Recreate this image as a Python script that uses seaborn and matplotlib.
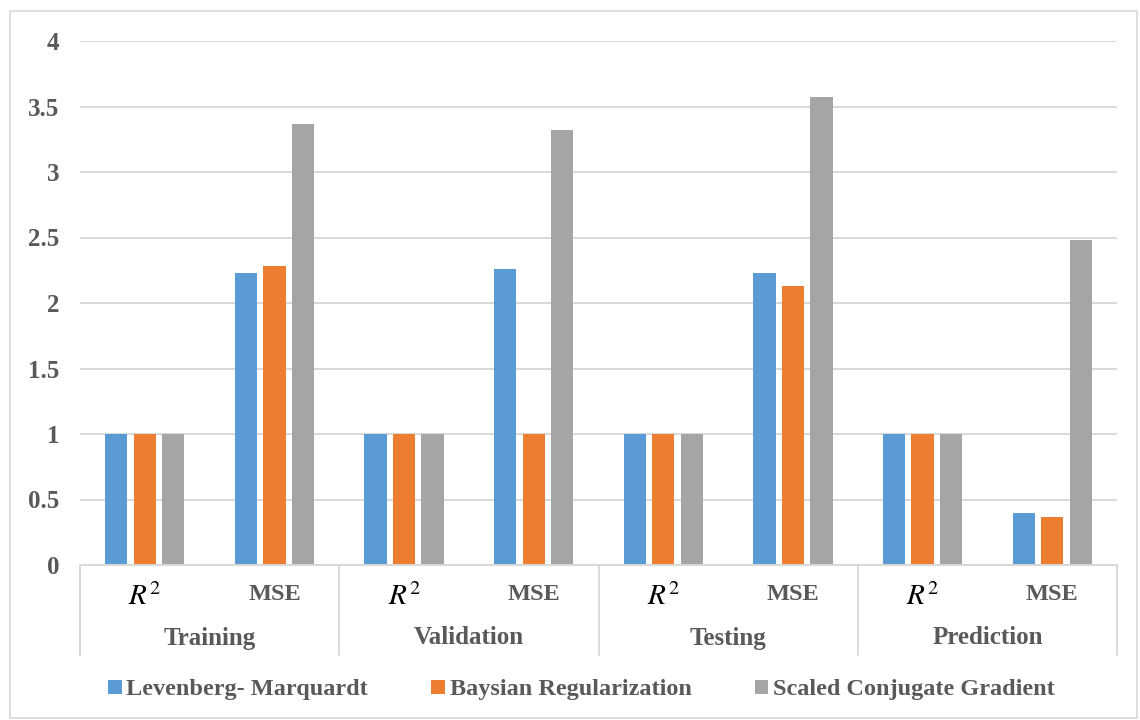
import matplotlib
matplotlib.use("Agg")
import matplotlib.pyplot as plt
import pandas as pd
import seaborn as sns
from matplotlib.patches import Patch, Rectangle
from matplotlib.lines import Line2D
from matplotlib.transforms import blended_transform_factory

# Chart data
stages = ["Training", "Validation", "Testing", "Prediction"]
metrics = ["$R^2$", "MSE"]
methods = ["Levenberg- Marquardt", "Baysian Regularization", "Scaled Conjugate Gradient"]
lm_values = [1, 2.23, 1, 2.26, 1, 2.23, 1, 0.40]
br_values = [1, 2.28, 1, 1, 1, 2.13, 1, 0.37]
scg_values = [1, 3.37, 1, 3.32, 1, 3.57, 1, 2.48]
y_ticks = [0, 0.5, 1, 1.5, 2, 2.5, 3, 3.5, 4]
colors = ["#5B9BD5", "#ED7D31", "#A5A5A5"]

categories = [f"{s}|{m}" for s in stages for m in metrics]
rows = []
for method, vals in zip(methods, [lm_values, br_values, scg_values]):
    for cat, v in zip(categories, vals):
        rows.append({"category": cat, "method": method, "value": v})
df = pd.DataFrame(rows)

sns.set_theme(style="white")
plt.rcParams["font.family"] = ["Liberation Serif", "DejaVu Serif"]
plt.rcParams["mathtext.fontset"] = "stix"

fig = plt.figure(figsize=(11.4, 7.2), dpi=100)
ax = fig.add_axes([80 / 1140, 1 - 565 / 720, (1117 - 80) / 1140, (565 - 41) / 720])

sns.barplot(data=df, x="category", y="value", hue="method", order=categories,
            hue_order=methods, palette=colors, width=0.66, gap=0.22,
            saturation=1, linewidth=0, legend=False, ax=ax, zorder=3)

grid_c = "#D9D9D9"
text_c = "#595959"
ax.set_ylim(0, 4)
ax.set_xlim(-0.5, len(categories) - 0.5)
ax.set_yticks(y_ticks)
ax.set_yticklabels([f"{t:g}" for t in y_ticks], fontsize=18, fontweight="bold", color=text_c)
ax.tick_params(axis="y", length=0, pad=15)
ax.yaxis.grid(True, color=grid_c, linewidth=1.4, zorder=0)
ax.set_axisbelow(True)
ax.set_xticks([])
ax.set_xlabel("")
ax.set_ylabel("")
for sp in ax.spines.values():
    sp.set_visible(False)

# Multi-level category axis
tr = blended_transform_factory(ax.transData, ax.transAxes)
ax.add_line(Line2D([-0.5, len(categories) - 0.5], [0, 0], transform=tr,
                   color=grid_c, linewidth=1.4, clip_on=False, zorder=4))
for b in [-0.5, 1.5, 3.5, 5.5, 7.5]:
    ax.add_line(Line2D([b, b], [0, -90 / 524], transform=tr, color=grid_c,
                       linewidth=1.4, clip_on=False))
for i, cat in enumerate(categories):
    metric = cat.split("|")[1]
    if metric.startswith("$"):
        ax.text(i, -32 / 524, metric, transform=tr, ha="center", va="center",
                fontsize=21, color="black")
    else:
        ax.text(i, -30 / 524, metric, transform=tr, ha="center", va="center",
                fontsize=17.5, fontweight="bold", color=text_c)
for j, stage in enumerate(stages):
    ax.text(2 * j + 0.5, -73 / 524, stage, transform=tr, ha="center", va="center",
            fontsize=18, fontweight="bold", color=text_c)

# Legend
handles = [Patch(facecolor=c, edgecolor="none", label=m) for c, m in zip(colors, methods)]
fig.legend(handles=handles, loc="center", bbox_to_anchor=(0.51, 1 - 690 / 720), ncol=3,
           frameon=False, handlelength=0.55, handleheight=0.55, handletextpad=0.2,
           columnspacing=2.6, prop={"size": 17.5, "weight": "bold"}, labelcolor=text_c)

# Chart border
fig.patches.append(Rectangle((10 / 1140, 2 / 720), 1127 / 1140, 707 / 720,
                             transform=fig.transFigure, fill=False,
                             edgecolor=grid_c, linewidth=1.2))

fig.savefig("out.png", dpi=100, facecolor="white")
